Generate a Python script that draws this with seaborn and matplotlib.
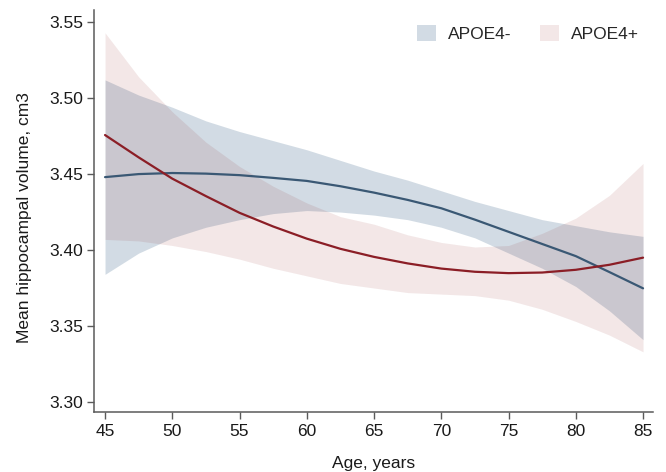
import matplotlib
matplotlib.use('Agg')
import matplotlib.pyplot as plt
from matplotlib.ticker import FormatStrFormatter
import seaborn as sns
import pandas as pd

# values
age = [45, 47.5, 50, 52.5, 55, 57.5, 60, 62.5, 65, 67.5, 70, 72.5, 75, 77.5, 80, 82.5, 85]

neg_mean = [3.448, 3.450, 3.4507, 3.4503, 3.4493, 3.4475, 3.4455, 3.442, 3.4378, 3.433,
            3.4275, 3.420, 3.412, 3.404, 3.396, 3.3855, 3.3748]
neg_lo = [3.384, 3.398, 3.408, 3.415, 3.420, 3.424, 3.426, 3.425, 3.423, 3.420,
          3.415, 3.408, 3.398, 3.388, 3.376, 3.360, 3.341]
neg_hi = [3.512, 3.502, 3.494, 3.485, 3.478, 3.472, 3.466, 3.459, 3.452, 3.446,
          3.439, 3.432, 3.426, 3.420, 3.416, 3.412, 3.409]

pos_mean = [3.4757, 3.461, 3.447, 3.4355, 3.4245, 3.4155, 3.4075, 3.4008, 3.3955, 3.3912,
            3.3878, 3.3857, 3.3848, 3.3852, 3.387, 3.3903, 3.395]
pos_lo = [3.407, 3.406, 3.403, 3.399, 3.394, 3.388, 3.383, 3.378, 3.375, 3.372,
          3.371, 3.370, 3.367, 3.361, 3.353, 3.344, 3.333]
pos_hi = [3.543, 3.514, 3.491, 3.471, 3.455, 3.442, 3.431, 3.422, 3.417, 3.410,
          3.405, 3.402, 3.403, 3.411, 3.421, 3.436, 3.457]

groups = ['APOE4-', 'APOE4+']
xticks = [45, 50, 55, 60, 65, 70, 75, 80, 85]
yticks = [3.30, 3.35, 3.40, 3.45, 3.50, 3.55]

line_cols = {'APOE4-': '#3a5874', 'APOE4+': '#8b1e26'}
band_cols = {'APOE4-': '#1f4e79', 'APOE4+': '#8b1a1a'}
band_alpha = {'APOE4-': 0.2, 'APOE4+': 0.1}

df = pd.DataFrame({
    'age': age + age,
    'vol': neg_mean + pos_mean,
    'group': [groups[0]] * len(age) + [groups[1]] * len(age),
})

sns.set_style('ticks')
plt.rcParams['font.family'] = ['Liberation Sans', 'DejaVu Sans']

fig = plt.figure(figsize=(6.66, 4.72), dpi=100)
ax = fig.add_axes([94 / 666, 1 - 412 / 472, 559 / 666, 402 / 472])

h1 = ax.fill_between(age, neg_lo, neg_hi, color=band_cols['APOE4-'], alpha=band_alpha['APOE4-'],
                     lw=0, label='APOE4-')
h2 = ax.fill_between(age, pos_lo, pos_hi, color=band_cols['APOE4+'], alpha=band_alpha['APOE4+'],
                     lw=0, label='APOE4+')

sns.lineplot(data=df, x='age', y='vol', hue='group', palette=line_cols, legend=False,
             estimator=None, errorbar=None, lw=1.6, ax=ax)

ax.set_xlim(44.18, 85.74)
ax.set_ylim(3.2934, 3.558)
ax.set_xticks(xticks)
ax.set_yticks(yticks)
ax.yaxis.set_major_formatter(FormatStrFormatter('%.2f'))

for s in ['top', 'right']:
    ax.spines[s].set_visible(False)
for s in ['left', 'bottom']:
    ax.spines[s].set_color('#5a5a5a')
    ax.spines[s].set_linewidth(1.1)
ax.tick_params(axis='both', direction='out', length=5, width=1.0, color='#5a5a5a',
               labelsize=12.5, labelcolor='#1a1a1a')
ax.tick_params(axis='x', pad=3.5)
ax.tick_params(axis='y', pad=3)

ax.set_xlabel('Age, years', fontsize=12.5, color='#1a1a1a')
ax.set_ylabel('Mean hippocampal volume, cm3', fontsize=12.5, color='#1a1a1a')
ax.xaxis.set_label_coords(0.5, (412 - 456) / 402)
ax.yaxis.set_label_coords((32 - 94) / 559, (412 - 218) / 402)

ax.legend(handles=[h1, h2], ncol=2, frameon=False, fontsize=12.5,
          loc='upper left', bbox_to_anchor=(417 / 666, 1 - 25 / 472),
          bbox_transform=fig.transFigure, borderpad=0, borderaxespad=0,
          handlelength=1.1, handleheight=1.0, handletextpad=0.7, columnspacing=1.6)

fig.savefig('out.png', dpi=100)
